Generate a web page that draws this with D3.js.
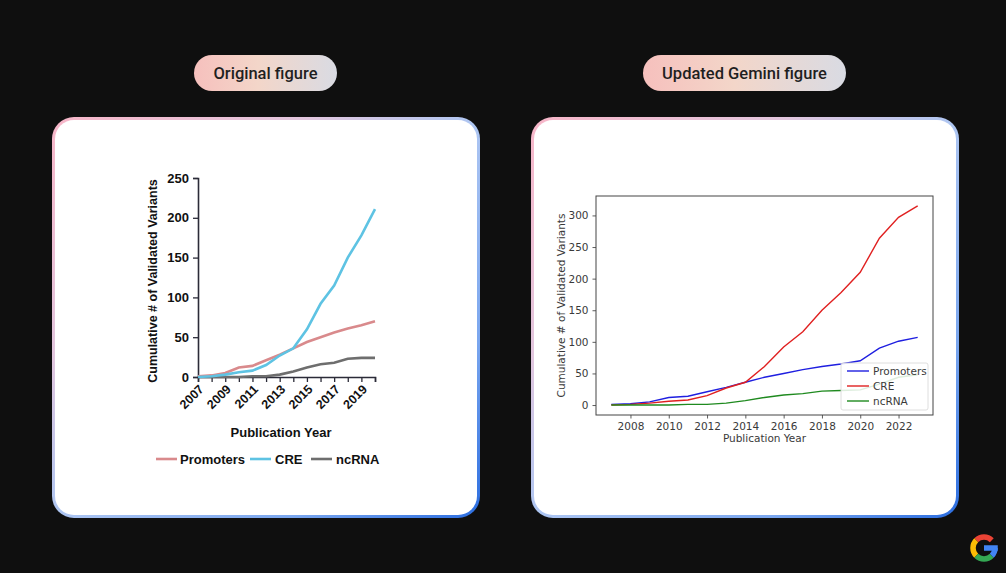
<!DOCTYPE html>
<html><head><meta charset="utf-8">
<script src="https://cdn.jsdelivr.net/npm/d3@7"></script>
<style>html,body{margin:0;padding:0;background:#0f0f0f;overflow:hidden}</style>
</head><body>
<svg id="c" width="1006" height="573"></svg>
<script>
// ---- Data ----
const yearsOrig = [2007,2008,2009,2010,2011,2012,2013,2014,2015,2016,2017,2018,2019,2020];
const promotersOrig = [1,2,5,12,14,21,28,36,44,50,56,61,65,70];
const creOrig = [0,1,3,6,8,15,27,36,60,92,115,150,178,211];
const ncrnaOrig = [0,0,0,0,1,1,3,7,12,16,18,23,24,24];
const xLabelsOrig = [2007,2009,2011,2013,2015,2017,2019];
const yTicksOrig = [0,50,100,150,200,250];

const yearsNew = [2007,2008,2009,2010,2011,2012,2013,2014,2015,2016,2017,2018,2019,2020,2021,2022,2023];
const promotersNew = [1,2,5,12,14,21,28,36,44,50,56,61,65,70,90,101,107];
const creNew = [0,1,3,6,8,15,27,36,61,92,116,150,178,210,264,297,315];
const ncrnaNew = [0,0,0,0,1,1,3,7,12,16,18,22,23,24,33,44,48];
const xTicksNew = [2008,2010,2012,2014,2016,2018,2020,2022];
const yTicksNew = [0,50,100,150,200,250,300];
const seriesNames = ["Promoters","CRE","ncRNA"];

const svg = d3.select("#c");
const defs = svg.append("defs");
svg.append("rect").attr("width",1006).attr("height",573).attr("fill","#0f0f0f");

// gradients
const cg = defs.append("linearGradient").attr("id","cardGrad").attr("x1","0").attr("y1","0").attr("x2","1").attr("y2","1");
cg.append("stop").attr("offset","0%").attr("stop-color","#f7b6c8");
cg.append("stop").attr("offset","30%").attr("stop-color","#e2c6de");
cg.append("stop").attr("offset","50%").attr("stop-color","#aec6f2");
cg.append("stop").attr("offset","78%").attr("stop-color","#7aa6ee");
cg.append("stop").attr("offset","100%").attr("stop-color","#2b6de0");
const pg = defs.append("linearGradient").attr("id","pillGrad").attr("x1","0").attr("y1","0").attr("x2","1").attr("y2","0");
pg.append("stop").attr("offset","0%").attr("stop-color","#f6c0bd");
pg.append("stop").attr("offset","45%").attr("stop-color","#f3d6c9");
pg.append("stop").attr("offset","100%").attr("stop-color","#d9dbe3");

// cards
[[52,117],[531,117]].forEach(([x,y])=>{
  svg.append("rect").attr("x",x).attr("y",y).attr("width",428).attr("height",401).attr("rx",22)
    .attr("fill","url(#cardGrad)");
  svg.append("rect").attr("x",x+3).attr("y",y+3).attr("width",422).attr("height",395).attr("rx",19)
    .attr("fill","#ffffff");
});
// pills
[[194,143,"Original figure"],[643,203,"Updated Gemini figure"]].forEach(([x,w,t])=>{
  svg.append("rect").attr("x",x).attr("y",55).attr("width",w).attr("height",36).attr("rx",18).attr("fill","url(#pillGrad)");
  svg.append("text").attr("x",x+w/2).attr("y",79).attr("text-anchor","middle")
    .attr("font-family","Roboto, 'Open Sans', sans-serif").attr("font-size",16.5).attr("font-weight",500)
    .attr("fill","#1f1f1f").text(t);
});

// ---- Left (original) chart ----
(function(){
  const g = svg.append("g");
  const x = d3.scaleLinear().domain([2007,2020]).range([198,375]);
  const y = d3.scaleLinear().domain([0,250]).range([377,178]);
  const font = "'Liberation Sans', Arial, sans-serif";
  const axisCol = "#2b2b38";
  const ya = g.append("g").attr("transform","translate(198,0)")
    .call(d3.axisLeft(y).tickValues(yTicksOrig).tickSize(5).tickPadding(4));
  const xa = g.append("g").attr("transform","translate(0,377)")
    .call(d3.axisBottom(x).tickValues(yearsOrig).tickSize(5).tickFormat(d=> xLabelsOrig.includes(d)? String(d):""));
  [ya,xa].forEach(a=>{
    a.select(".domain").attr("stroke",axisCol).attr("stroke-width",1.6);
    a.selectAll(".tick line").attr("stroke",axisCol).attr("stroke-width",1.3);
    a.selectAll("text").attr("font-family",font).attr("font-weight","bold").attr("fill","#111").attr("font-size",13);
  });
  xa.selectAll(".tick text").attr("text-anchor","end").attr("dy",0).attr("y",0)
    .attr("font-size",12.5)
    .attr("transform","translate(6,13) rotate(-45)");
  g.append("text").attr("transform","translate(157,281) rotate(-90)").attr("text-anchor","middle")
    .attr("font-family",font).attr("font-weight","bold").attr("font-size",12.5).attr("fill","#111")
    .text("Cumulative # of Validated Variants");
  g.append("text").attr("x",281).attr("y",437).attr("text-anchor","middle")
    .attr("font-family",font).attr("font-weight","bold").attr("font-size",13).attr("fill","#111")
    .text("Publication Year");
  const cols = ["#d98a8c","#5ec3e3","#6e6e6e"];
  const data = [promotersOrig, creOrig, ncrnaOrig];
  const line = d3.line().x((d,i)=>x(yearsOrig[i])).y(d=>y(d));
  [2,0,1].forEach(k=>{
    g.append("path").attr("d",line(data[k])).attr("fill","none").attr("stroke",cols[k]).attr("stroke-width",2.6);
  });
  const leg = [[156,180],[250,275],[311,336]];
  leg.forEach(([lx,tx],k)=>{
    g.append("line").attr("x1",lx).attr("x2",lx+21).attr("y1",459).attr("y2",459).attr("stroke",cols[k]).attr("stroke-width",2.6);
    g.append("text").attr("x",tx).attr("y",464).attr("font-family",font).attr("font-weight","bold")
      .attr("font-size",13).attr("fill","#111").text(seriesNames[k]);
  });
})();

// ---- Right (updated) chart ----
(function(){
  const g = svg.append("g");
  const L=596, R=933, T=196, B=415;
  const x = d3.scaleLinear().domain([2006.2,2023.8]).range([L,R]);
  const y = d3.scaleLinear().domain([-15.75,330.75]).range([B,T]);
  const font = "'DejaVu Sans', sans-serif";
  const tc = "#3a3a3a";
  const xa = g.append("g").attr("transform",`translate(0,${B})`).call(d3.axisBottom(x).tickValues(xTicksNew).tickFormat(d3.format("d")).tickSize(3.5).tickPadding(4));
  const ya = g.append("g").attr("transform",`translate(${L},0)`).call(d3.axisLeft(y).tickValues(yTicksNew).tickSize(3.5).tickPadding(4));
  [xa,ya].forEach(a=>{
    a.select(".domain").remove();
    a.selectAll(".tick line").attr("stroke","#333").attr("stroke-width",0.8);
    a.selectAll("text").attr("font-family",font).attr("font-size",10.5).attr("fill",tc);
  });
  g.append("rect").attr("x",L).attr("y",T).attr("width",R-L).attr("height",B-T)
    .attr("fill","none").attr("stroke","#444").attr("stroke-width",1);
  g.append("text").attr("x",(L+R)/2).attr("y",442).attr("text-anchor","middle")
    .attr("font-family",font).attr("font-size",10.5).attr("fill",tc).text("Publication Year");
  g.append("text").attr("transform",`translate(565,${(T+B)/2}) rotate(-90)`).attr("text-anchor","middle")
    .attr("font-family",font).attr("font-size",10.5).attr("fill",tc).text("Cumulative # of Validated Variants");
  const cols = ["#1f1fe0","#e02020","#1f8a1f"];
  const data = [promotersNew, creNew, ncrnaNew];
  const line = d3.line().x((d,i)=>x(yearsNew[i])).y(d=>y(d));
  data.forEach((dd,k)=>{
    g.append("path").attr("d",line(dd)).attr("fill","none").attr("stroke",cols[k]).attr("stroke-width",1.4);
  });
  // legend
  g.append("rect").attr("x",841).attr("y",363).attr("width",87).attr("height",47).attr("rx",2)
    .attr("fill","rgba(255,255,255,0.85)").attr("stroke","#d6d6d6").attr("stroke-width",0.8);
  seriesNames.forEach((n,k)=>{
    const yy = 371 + k*15;
    g.append("line").attr("x1",847).attr("x2",869).attr("y1",yy).attr("y2",yy).attr("stroke",cols[k]).attr("stroke-width",1.4);
    g.append("text").attr("x",873).attr("y",yy+4).attr("font-family",font).attr("font-size",10.5).attr("fill",tc).text(n);
  });
})();

// Google G logo
(function(){
  const cx=984, cy=548, r=11, w=5.5;
  const arc = d3.arc().innerRadius(r-w/2).outerRadius(r+w/2);
  const g = svg.append("g").attr("transform",`translate(${cx},${cy})`);
  const deg = a=>a*Math.PI/180;
  g.append("path").attr("d",arc({startAngle:deg(-45),endAngle:deg(45)})).attr("fill","#ea4335");
  g.append("path").attr("d",arc({startAngle:deg(-135),endAngle:deg(-45)})).attr("fill","#fbbc05");
  g.append("path").attr("d",arc({startAngle:deg(-225),endAngle:deg(-135)})).attr("fill","#34a853");
  g.append("path").attr("d",arc({startAngle:deg(90),endAngle:deg(135)})).attr("fill","#4285f4");
  g.append("rect").attr("x",0).attr("y",-w/2).attr("width",r+w/2).attr("height",w).attr("fill","#4285f4");
})();
</script>
</body></html>
